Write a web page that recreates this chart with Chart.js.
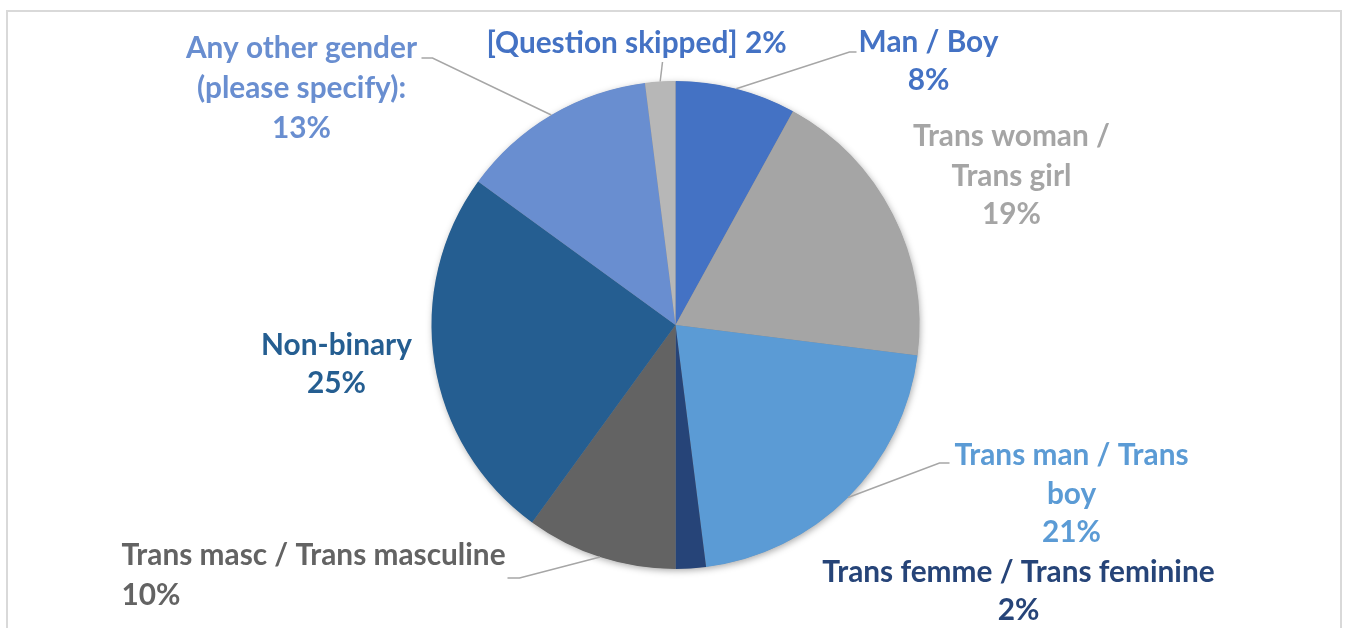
<!DOCTYPE html>
<html>
<head>
<meta charset="utf-8">
<script src="https://cdn.jsdelivr.net/npm/chart.js@4/dist/chart.umd.min.js"></script>
<style>
  html, body { margin: 0; padding: 0; background: #fff; overflow: hidden; }
  #frame { position: absolute; left: 6px; top: 10px; width: 1336px; height: 640px; border: 2px solid #D9D9D9; box-sizing: border-box; }
  #wrap { position: absolute; left: 0; top: 0; width: 1351px; height: 628px; }
</style>
</head>
<body>
<div id="frame"></div>
<div id="wrap"><canvas id="genderChart"></canvas></div>
<script>
// Gender breakdown (percent of respondents)
const categories = ['Man / Boy', 'Trans woman / Trans girl', 'Trans man / Trans boy', 'Trans femme / Trans feminine',
    'Trans masc / Trans masculine', 'Non-binary', 'Any other gender (please specify):', '[Question skipped]'];
const shares = [8, 19, 21, 2, 10, 25, 13, 2];
const sliceColors = ['#4472C4', '#A5A5A5', '#5B9BD5', '#264478', '#636363', '#255E91', '#698ED0', '#B7B7B7'];
const labelColors = ['#4472C4', '#A5A5A5', '#5B9BD5', '#264478', '#636363', '#255E91', '#698ED0', '#4472C4'];

// where each label sits, offsets from pie centre; {p} is the percentage
const labelLayout = [
    { lines: ['Man / Boy', '{p}'], x: 253, y: [-283, -245], align: 'center', elbow: [174, -273], end: [181, -273] },
    { lines: ['Trans woman /', 'Trans girl', '{p}'], x: 336, y: [-189, -149, -111], align: 'center' },
    { lines: ['Trans man / Trans', 'boy', '{p}'], x: 396, y: [130, 169, 207], align: 'center', elbow: [264, 138], end: [274, 138] },
    { lines: ['Trans femme / Trans feminine', '{p}'], x: 343, y: [247, 285], align: 'center' },
    { lines: ['Trans masc / Trans masculine', '{p}'], x: -554, y: [230, 270], align: 'left', elbow: [-156, 253], end: [-168, 253] },
    { lines: ['Non-binary', '{p}'], x: -339, y: [20, 58], align: 'center' },
    { lines: ['Any other gender', '(please specify):', '{p}'], x: -374, y: [-277, -237, -197], align: 'center', elbow: [-243, -267], end: [-254, -267] },
    { lines: ['[Question skipped] {p}'], x: -39, y: [-282], align: 'center', elbow: [-13, -263], end: [-13, -263] }
];

const pieShadow = {
    id: 'pieShadow',
    beforeDatasetsDraw(chart) {
        const arc = chart.getDatasetMeta(0).data[0];
        if (!arc) return;
        const ctx = chart.ctx;
        ctx.save();
        ctx.shadowColor = 'rgba(0,0,0,0.35)';
        ctx.shadowBlur = 7;
        ctx.shadowOffsetX = 1;
        ctx.shadowOffsetY = 2;
        ctx.fillStyle = '#888';
        ctx.beginPath();
        ctx.arc(arc.x, arc.y, arc.outerRadius - 0.5, 0, Math.PI * 2);
        ctx.fill();
        ctx.restore();
    }
};

const outsideLabels = {
    id: 'outsideLabels',
    afterDatasetsDraw(chart) {
        const ctx = chart.ctx;
        const meta = chart.getDatasetMeta(0);
        meta.data.forEach((arc, i) => {
            const lay = labelLayout[i];
            const cx = arc.x, cy = arc.y;
            if (lay.elbow) {
                const mid = (arc.startAngle + arc.endAngle) / 2;
                const sx = cx + Math.cos(mid) * arc.outerRadius;
                const sy = cy + Math.sin(mid) * arc.outerRadius;
                ctx.save();
                ctx.strokeStyle = '#A6A6A6';
                ctx.lineWidth = 1.5;
                ctx.beginPath();
                ctx.moveTo(sx, sy);
                ctx.lineTo(cx + lay.elbow[0], cy + lay.elbow[1]);
                ctx.lineTo(cx + lay.end[0], cy + lay.end[1]);
                ctx.stroke();
                ctx.restore();
            }
            ctx.save();
            ctx.font = 'bold 29.8px Lato';
            ctx.fillStyle = labelColors[i];
            ctx.textAlign = lay.align;
            ctx.textBaseline = 'middle';
            lay.lines.forEach((ln, j) => {
                ctx.fillText(ln.replace('{p}', shares[i] + '%'), cx + lay.x, cy + lay.y[j]);
            });
            ctx.restore();
        });
    }
};

new Chart(document.getElementById('genderChart'), {
    type: 'pie',
    data: {
        labels: categories,
        datasets: [{
            data: shares,
            backgroundColor: sliceColors,
            borderWidth: 0
        }]
    },
    options: {
        responsive: true,
        maintainAspectRatio: false,
        animation: false,
        layout: { padding: { top: 81, bottom: 59, left: 0, right: 0 } },
        plugins: {
            legend: { display: false },
            tooltip: { enabled: false }
        }
    },
    plugins: [pieShadow, outsideLabels]
});
</script>
</body>
</html>
